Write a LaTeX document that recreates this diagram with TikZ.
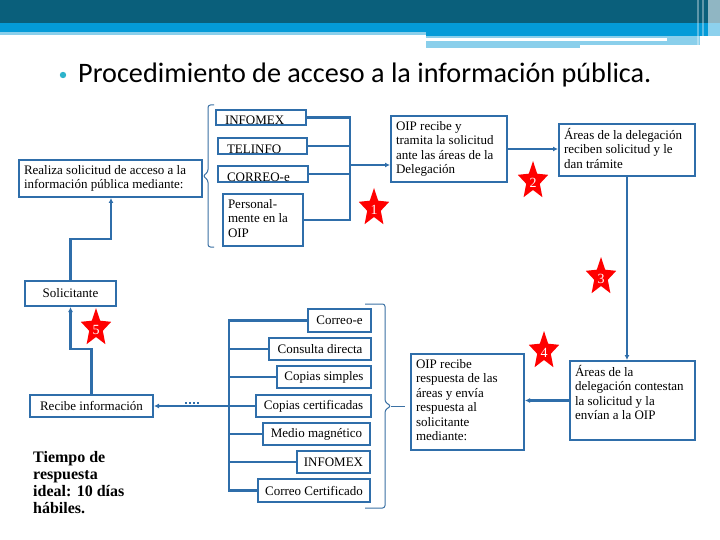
\documentclass[tikz,border=0pt]{standalone}
\usepackage{fontspec}
\setmainfont{Liberation Serif}
\newfontfamily\titlefont{Carlito}
\usetikzlibrary{arrows.meta}
\definecolor{hdark}{HTML}{0A5F7B}
\definecolor{hblue}{HTML}{049BD8}
\definecolor{hlight}{HTML}{8ACFEB}
\definecolor{bblue}{HTML}{2F6EAA}
\definecolor{bulletc}{HTML}{2DB3CB}
\newcommand\bt[3]{\parbox[c][#1][t]{#2}{\begin{tabular}[t]{@{}l@{}}#3\end{tabular}}}
\tikzset{
  pics/rstar/.style={code={
    \fill[red] (0,-20) -- (-4.2,-7.3) -- (-15.2,-6.2) -- (-6.8,2.8) -- (-9.4,16.2) -- (0,9) -- (9.4,16.2) -- (6.8,2.8) -- (15.2,-6.2) -- (4.2,-7.3) -- cycle;
    \node[text=white, font=\fontsize{14}{14}\selectfont, inner sep=0] at (0,2) {#1};
  }}
}
\begin{document}
\begin{tikzpicture}[x=1pt,y=-1pt,
  box/.style={draw=bblue, line width=2pt, fill=white, inner xsep=5pt, inner ysep=4pt, font=\fontsize{13}{14.5}\selectfont},
  sbox/.style={box, inner ysep=0pt, align=center},
  lbox/.style={box, inner xsep=9pt, inner ysep=0pt, align=left},
  conn/.style={draw=bblue, line width=2.6pt},
  arr/.style={conn, -{Latex[length=5pt,width=5pt]}},
  bracel/.style={draw=bblue!85!gray, line width=1pt, rounded corners=2.5pt}]
\useasboundingbox (0,0) rectangle (720,540);
\fill[white] (0,0) rectangle (720,540);
% header
\fill[hdark] (0,0) rectangle (720,23);
\fill[hblue] (0,23) rectangle (720,32);
\fill[hlight] (0,32) rectangle (426,35);
\fill[hblue] (426,32) rectangle (720,36);
\fill[hlight] (426,36) rectangle (700,45);
\fill[hlight] (426,45) rectangle (580,48);
\fill[white] (426,38.5) rectangle (667,41.5);
\fill[white, opacity=0.35] (697,0) rectangle (699,48);
\fill[white, opacity=0.35] (702,0) rectangle (704,48);
\fill[white, opacity=0.55] (708,0) rectangle (720,48);
% title
\fill[bulletc] (63,75) circle (3.2);
\node[anchor=base west, inner sep=0, font=\titlefont\fontsize{28.2}{30}\selectfont] (title) at (78,83) {Procedimiento de acceso a la información pública.};
% upper boxes
\node[box, minimum width=183pt] (real) at (110.5,178.5) {\bt{29pt}{173pt}{Realiza solicitud de acceso a la\\información pública mediante:}};
\node[lbox, text width=72pt, minimum height=15pt] (infomex1) at (261,117.5) {\raisebox{-3pt}[9pt][0pt]{INFOMEX}};
\node[lbox, text width=71pt, minimum height=16pt] (telinfo) at (262.5,146) {\raisebox{-3pt}[9pt][0pt]{TELINFO}};
\node[lbox, text width=72pt, minimum height=16pt] (correo1) at (263,174) {\raisebox{-3pt}[9pt][0pt]{CORREO-e}};
\node[box] (personal) at (263,220) {\bt{44pt}{70pt}{Personal-\\mente en la\\OIP}};
\node[box] (oip1) at (449,149) {\bt{58pt}{106pt}{OIP recibe y\\tramita la solicitud\\ante las áreas de la\\Delegación}};
\node[box] (areas1) at (627,150) {\bt{44pt}{126pt}{Áreas de la delegación\\reciben solicitud y le\\dan trámite}};
\node[box] (areas2) at (632.5,400.5) {\bt{71pt}{115pt}{Áreas de la\\delegación contestan\\la solicitud y la\\envían a la OIP}};
\node[box] (oip2) at (467.5,402) {\bt{88pt}{103pt}{OIP recibe\\respuesta de las\\áreas y envía\\respuesta al\\solicitante\\mediante:}};
\node[sbox, minimum width=91pt, minimum height=25pt] (solic) at (70.5,293.5) {Solicitante};
\node[sbox, minimum width=123pt, minimum height=22pt] (recibe) at (91.5,406) {Recibe información};
% lower option boxes
\node[sbox, minimum width=63pt, minimum height=23pt] (correo2) at (339.5,320.5) {Correo-e};
\node[sbox, minimum width=102pt, minimum height=22pt] (consulta) at (320,349) {Consulta directa};
\node[sbox, minimum width=94pt, minimum height=22pt] (simples) at (324,377) {Copias simples};
\node[sbox, minimum width=115pt, minimum height=22pt] (certif) at (313.5,406) {Copias certificadas};
\node[sbox, minimum width=107pt, minimum height=22pt] (medio) at (316.5,434) {Medio magnético};
\node[sbox, minimum width=73pt, minimum height=22pt] (infomex2) at (333.5,462) {INFOMEX};
\node[sbox, minimum width=112pt, minimum height=23pt] (correocert) at (314,490.5) {Correo Certificado};
% time note
\node[anchor=north west, inner sep=0, align=left, font=\bfseries\fontsize{16}{17}\selectfont] (tiempo) at (33,451) {Tiempo de\\respuesta\\ideal: 10 días\\hábiles.};
% braces
\draw[bracel] (214,105) -- (208,105) -- (208,172) -- (203,176) -- (208,180) -- (208,247) -- (214,247);
\draw[bracel] (365,304) -- (385,304) -- (385,402) -- (391,406) -- (385,410) -- (385,508) -- (365,508);
\draw[bracel, rounded corners=0pt] (391,406) -- (405,406);
% connectors upper
\coordinate (j1) at (350,165);
\draw[conn] (infomex1.east) -- (infomex1.east -| j1) -- (personal.east -| j1) -- (personal.east);
\draw[conn] (telinfo.east) -- (telinfo.east -| j1);
\draw[conn] (correo1.east) -- (correo1.east -| j1);
\draw[arr] (j1) -- (j1 -| oip1.west);
\draw[arr] (oip1.east) -- (oip1.east -| areas1.west);
\draw[arr] (areas1.south) -- (areas1.south |- areas2.north);
\draw[arr] (areas2.west) -- (areas2.west -| oip2.east);
% solicitante loop
\coordinate (k1) at (111,239);
\draw[arr] (solic.north) |- (k1) -- (k1 |- real.south);
\coordinate (k2) at (70.5,349);
\draw[arr] (recibe.north) |- (k2) -- (solic.south);
% lower options
\coordinate (j2) at (229,406);
\draw[conn] (correo2.west) -- (correo2.west -| j2) -- (correocert.west -| j2) -- (correocert.west);
\draw[conn] (consulta.west) -- (consulta.west -| j2);
\draw[conn] (simples.west) -- (simples.west -| j2);
\draw[conn] (certif.west) -- (j2);
\draw[conn] (medio.west) -- (medio.west -| j2);
\draw[conn] (infomex2.west) -- (infomex2.west -| j2);
\draw[arr] (j2) -- (recibe.east);
\draw[draw=bblue, line width=1.4pt, dash pattern=on 2pt off 2pt] (185,403) -- (199,403);
% stars
\pic at (374,208) {rstar=1};
\pic at (533,181) {rstar=2};
\pic at (601,277) {rstar=3};
\pic at (544,351) {rstar=4};
\pic at (96,328) {rstar=5};
\end{tikzpicture}
\end{document}
